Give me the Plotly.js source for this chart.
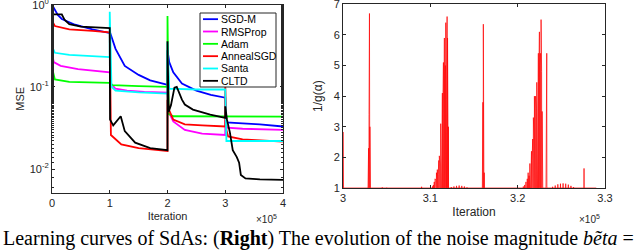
<!DOCTYPE html>
<html>
<head>
<meta charset="utf-8">
<script src="https://cdn.plot.ly/plotly-3.0.1.min.js"></script>
<style>html,body{margin:0;padding:0;background:#fff;}#chart{width:640px;height:252px;}</style>
</head>
<body>
<div id="chart"></div>
<script>
// ---------- Left panel: MSE learning curves (iterations in units of 1e5) ----------
const seriesNames = ["SGD-M", "RMSProp", "Adam", "AnnealSGD", "Santa", "CLTD"];

const sgdmX = [0, 0.1, 0.17, 0.4, 0.7, 1.0, 1.01, 1.1, 1.26, 1.5, 1.7, 1.97, 2.0, 2.0, 2.03, 2.1, 2.25, 2.5, 2.75, 3.0, 3.02, 3.3, 3.6, 4.0];
const sgdmY = [1.0, 0.75, 0.67, 0.57, 0.5, 0.46, 0.45, 0.29, 0.18, 0.14, 0.12, 0.107, 0.106, 0.28, 0.2, 0.15, 0.11, 0.09, 0.08, 0.074, 0.037, 0.036, 0.035, 0.033];

const rmsX = [0, 0.03, 0.15, 0.45, 1.0, 1.02, 1.1, 1.3, 1.6, 2.0, 2.02, 2.1, 2.3, 2.6, 3.0, 3.0, 3.03, 3.3, 4.0];
const rmsY = [0.26, 0.2, 0.18, 0.165, 0.15, 0.11, 0.095, 0.09, 0.087, 0.085, 0.05, 0.038, 0.03, 0.027, 0.026, 0.04, 0.032, 0.031, 0.030];

const adamX = [0, 0.02, 0.05, 0.3, 1.0, 1.05, 1.5, 2.0, 2.0, 2.02, 2.1, 3.0, 4.0];
const adamY = [0.31, 0.15, 0.123, 0.115, 0.112, 0.105, 0.102, 0.1, 0.73, 0.047, 0.044, 0.0435, 0.0435];

const annealX = [0, 0.02, 0.05, 0.3, 0.7, 1.0, 1.02, 1.2, 1.5, 1.8, 2.0, 2.0, 2.03, 2.1, 2.3, 2.6, 3.0, 3.0, 3.02, 3.05, 3.3, 4.0];
const annealY = [0.95, 0.6, 0.55, 0.5, 0.48, 0.46, 0.026, 0.02, 0.018, 0.017, 0.0166, 0.07, 0.052, 0.04, 0.035, 0.034, 0.033, 0.107, 0.03, 0.025, 0.023, 0.0216];

const santaX = [0, 0.01, 0.05, 0.3, 1.0, 1.0, 1.03, 1.1, 1.5, 2.0, 2.0, 2.03, 2.5, 3.0, 3.02, 4.0];
const santaY = [0.95, 0.3, 0.26, 0.245, 0.23, 0.82, 0.1, 0.09, 0.086, 0.083, 0.35, 0.095, 0.093, 0.093, 0.022, 0.022];

const cltdX = [0, 0.005, 0.17, 0.22, 0.3, 0.5, 1.0, 1.005, 1.06, 1.19, 1.26, 1.44, 1.7, 2.0, 2.0, 2.02, 2.06, 2.12, 2.16, 2.2, 2.25, 2.3, 2.44, 2.74, 3.0, 3.0, 3.03, 3.08, 3.13, 3.2, 3.24, 3.27, 3.35, 3.6, 4.0];
const cltdY = [1.0, 0.76, 0.76, 0.65, 0.58, 0.54, 0.52, 0.04, 0.034, 0.044, 0.029, 0.021, 0.018, 0.017, 0.36, 0.05, 0.06, 0.098, 0.1, 0.085, 0.07, 0.061, 0.053, 0.046, 0.042, 0.058, 0.04, 0.028, 0.017, 0.014, 0.012, 0.0085, 0.0077, 0.0075, 0.0074];

const seriesColors = ["#0000ff", "#ff00ff", "#00ff00", "#ff0000", "#00ffff", "#000000"];
const leftXTicks = [0, 1, 2, 3, 4];
const leftYTicks = [0.01, 0.1, 1];
const leftYTickText = ["10<sup>-2</sup>", "10<sup>-1</sup>", "10<sup>0</sup>"];

// ---------- Right panel: 1/g(alpha) spikes (iterations in units of 1e5) ----------
const spikeX = [3.0000, 3.0004, 3.0288, 3.0293, 3.0298, 3.0303, 3.0308, 3.0313, 3.0450, 3.0500, 3.0900,
  3.1025, 3.1035, 3.1045, 3.1054, 3.1062, 3.1070, 3.1080, 3.1090, 3.1097, 3.1103, 3.1110, 3.1119, 3.1125, 3.1132, 3.1138, 3.1143, 3.1150, 3.1155, 3.1161, 3.1166, 3.1171, 3.1177, 3.1182, 3.1187, 3.1192, 3.1197, 3.1202, 3.1207,
  3.1240, 3.1270, 3.1300, 3.1330, 3.1360, 3.1390, 3.1420,
  3.1597, 3.1602, 3.1607, 3.1612, 3.1617,
  3.2065, 3.2080, 3.2095, 3.2110, 3.2120, 3.2130, 3.2140, 3.2150, 3.2158, 3.2165, 3.2172, 3.2180, 3.2186, 3.2192, 3.2198, 3.2205, 3.2212, 3.2219, 3.2225, 3.2231, 3.2237, 3.2243, 3.2249, 3.2254, 3.2260, 3.2268, 3.2274, 3.2280, 3.2286,
  3.2326, 3.2333,
  3.2400, 3.2430, 3.2460, 3.2490, 3.2520, 3.2550, 3.2580, 3.2610, 3.2640,
  3.2760];
const spikeH = [2.83, 1.5, 1.2, 2.3, 3.4, 6.7, 3.0, 1.3, 1.02, 1.01, 1.04,
  1.05, 1.1, 1.2, 1.3, 1.25, 1.5, 1.6, 1.45, 1.9, 2.05, 1.8, 3.1, 2.4, 3.0, 4.1, 3.4, 5.1, 3.8, 5.9, 4.5, 5.0, 6.4, 5.2, 3.9, 6.6, 5.9, 4.2, 3.0,
  1.03, 1.05, 1.07, 1.08, 1.07, 1.05, 1.02,
  2.0, 3.8, 6.35, 5.8, 1.5,
  1.05, 1.1, 1.2, 1.3, 1.5, 1.4, 1.8, 1.6, 2.2, 1.9, 2.6, 3.3, 2.7, 4.0, 3.2, 4.0, 3.6, 4.45, 3.9, 5.4, 5.4, 4.6, 6.1, 5.0, 5.4, 6.5, 4.8, 3.5, 1.8,
  1.9, 5.4,
  1.04, 1.08, 1.12, 1.14, 1.15, 1.14, 1.11, 1.07, 1.03,
  1.64];
const rightStart = 3.0, rightEnd = 3.29;
const rightXTicks = [3, 3.1, 3.2, 3.3];
const rightYTicks = [1, 2, 3, 4, 5, 6, 7];

// build the right trace from the spike lists
const halfW = 0.00015;
const rx = [rightStart], ry = [1];
for (let i = 0; i < spikeX.length; i++) {
  rx.push(Math.max(rightStart, spikeX[i] - halfW), spikeX[i], spikeX[i] + halfW);
  ry.push(1, spikeH[i], 1);
}
rx.push(rightEnd); ry.push(1);

const leftXs = [sgdmX, rmsX, adamX, annealX, santaX, cltdX];
const leftYs = [sgdmY, rmsY, adamY, annealY, santaY, cltdY];

const traces = seriesNames.map((n, i) => ({
  type: "scatter", mode: "lines", name: n, showlegend: false,
  x: leftXs[i], y: leftYs[i],
  xaxis: "x", yaxis: "y",
  line: {color: seriesColors[i], width: 1.8}
}));
traces.push({
  type: "scatter", mode: "lines", name: "1/g(α)", showlegend: false,
  x: rx, y: ry, xaxis: "x2", yaxis: "y2",
  line: {color: "rgba(255,0,0,0.8)", width: 0.9}
});

const axCol = "#262626";
const sans = "Liberation Sans, Arial, sans-serif";
const tickFont = {family: sans, size: 11, color: axCol};
const common = {
  showline: true, linecolor: axCol, linewidth: 1, mirror: "ticks",
  ticks: "inside", ticklen: 3, tickcolor: axCol, tickfont: tickFont,
  showgrid: false, zeroline: false, ticklabeloverflow: "allow"
};

// manual legend (box, line samples, names) in paper coordinates
const legL = 200, legR = 276, legT = 13, legB = 87;
const legRow = (legB - legT) / seriesNames.length;
const px = v => v / 640, py = v => 1 - v / 252;
const shapes = [{type: "rect", xref: "paper", yref: "paper", x0: px(legL), x1: px(legR), y0: py(legT), y1: py(legB),
  line: {color: axCol, width: 1}, fillcolor: "#fff", layer: "above"}];
const annotations = [];
seriesNames.forEach((n, i) => {
  const yc = legT + legRow * (i + 0.5);
  shapes.push({type: "line", xref: "paper", yref: "paper", x0: px(legL + 3), x1: px(legL + 18), y0: py(yc), y1: py(yc),
    line: {color: seriesColors[i], width: 1.8}, layer: "above"});
  annotations.push({xref: "paper", yref: "paper", x: px(legL + 19), y: py(yc), xanchor: "left", yanchor: "middle",
    text: n, showarrow: false, font: {family: sans, size: 10.5, color: "#000"}});
});
annotations.push(
  {xref: "paper", yref: "paper", x: 266/640, y: 1 - 219/252, text: "×10<sup>5</sup>", showarrow: false,
   font: {family: sans, size: 10, color: axCol}, xanchor: "center", yanchor: "middle"},
  {xref: "paper", yref: "paper", x: 589/640, y: 1 - 219/252, text: "×10<sup>5</sup>", showarrow: false,
   font: {family: sans, size: 10, color: axCol}, xanchor: "center", yanchor: "middle"},
  {xref: "paper", yref: "paper", x: 1/640, y: 1 - 238/252, xanchor: "left", yanchor: "middle", showarrow: false,
   text: "Learning curves of SdAs: (<b>Right</b>) The evolution of the noise magnitude <i>be\u0303ta</i> =",
   font: {family: "Liberation Serif, Times New Roman, serif", size: 20, color: "#000"}}
);

const layout = {
  width: 640, height: 252,
  margin: {l: 0, r: 0, t: 0, b: 0},
  paper_bgcolor: "#fff", plot_bgcolor: "#fff",
  showlegend: false,
  xaxis: Object.assign({}, common, {
    domain: [52/640, 283/640], range: [0, 4], tickvals: leftXTicks, anchor: "y",
    title: {text: "Iteration", font: {family: sans, size: 11, color: axCol}, standoff: 4}
  }),
  yaxis: Object.assign({}, common, {
    domain: [1 - 193/252, 1 - 4.5/252], type: "log", range: [-2.29, 0.002], anchor: "x",
    tickvals: leftYTicks, ticktext: leftYTickText,
    minor: {ticks: "inside", ticklen: 2, tickcolor: axCol},
    title: {text: "MSE", font: {family: sans, size: 11, color: axCol}, standoff: 2}
  }),
  xaxis2: Object.assign({}, common, {
    domain: [343/640, 605/640], range: [3, 3.3], tickvals: rightXTicks, anchor: "y2",
    title: {text: "Iteration", font: {family: sans, size: 12, color: axCol}, standoff: 4}
  }),
  yaxis2: Object.assign({}, common, {
    domain: [1 - 188/252, 1 - 4.3/252], range: [1, 7], tickvals: rightYTicks, anchor: "x2",
    title: {text: "1/g(α)", font: {family: sans, size: 12, color: axCol}, standoff: 8}
  }),
  shapes: shapes,
  annotations: annotations
};

Plotly.newPlot("chart", traces, layout, {displayModeBar: false, staticPlot: true});
</script>
</body>
</html>
